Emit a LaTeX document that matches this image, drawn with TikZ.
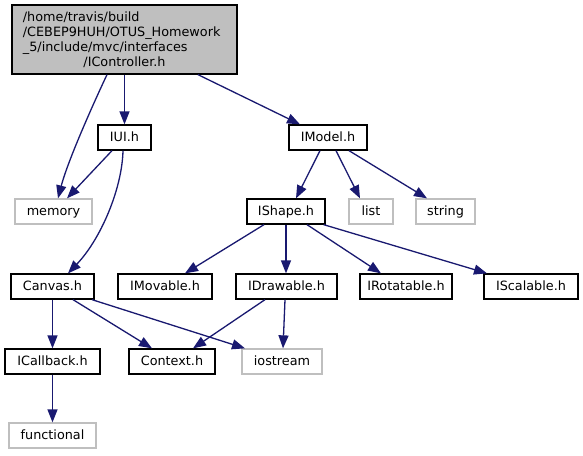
\documentclass[tikz,border=0pt]{standalone}
\usepackage{fontspec}
\setmainfont{DejaVu Sans}
\usetikzlibrary{arrows.meta}
\definecolor{edgeblue}{HTML}{191970}
\definecolor{sysgray}{HTML}{BFBFBF}
\begin{document}
\begin{tikzpicture}[x=1pt,y=-1pt,
  every node/.style={font=\fontsize{12.8}{15}\selectfont, inner sep=0pt},
  file/.style={draw=black, line width=1.3pt, fill=white, minimum height=25pt, text height=9.5pt, text depth=2.5pt},
  sysfile/.style={draw=sysgray, line width=1.3pt, fill=white, minimum height=25pt, text height=9.5pt, text depth=2.5pt},
  e/.style={draw=edgeblue, line width=1.3pt, -{Triangle[length=13pt,width=10pt]}, edgeblue}]
\useasboundingbox (0,0) rectangle (583,455);
\fill[white] (0,0) rectangle (583,455);
% nodes
\node[draw=black, line width=1.3pt, fill=sysgray, minimum width=225pt, minimum height=69pt] (top) at (124.5,39.5) {};
\node[anchor=base west] (t1) at (22.7,21) {/home/travis/build};
\node[anchor=base west] (t2) at (22.7,36) {/CEBEP9HUH/OTUS\_Homework};
\node[anchor=base west] (t3) at (22.7,51) {\_5/include/mvc/interfaces};
\node[anchor=base] (t4) at (124.5,66) {/IController.h};
\node[file, minimum width=53pt] (iui) at (124.5,137.5) {IUI.h};
\node[file, minimum width=78pt] (imodel) at (328,137.5) {IModel.h};
\node[sysfile, minimum width=77pt] (memory) at (53.5,211.5) {memory};
\node[file, minimum width=78pt] (ishape) at (286,211.5) {IShape.h};
\node[sysfile, minimum width=44pt] (list) at (371,211.5) {list};
\node[sysfile, minimum width=59pt] (string) at (445.5,211.5) {string};
\node[file, minimum width=83pt] (canvas) at (52.5,286.5) {Canvas.h};
\node[file, minimum width=94pt] (imovable) at (165,286.5) {IMovable.h};
\node[file, minimum width=101pt] (idrawable) at (286.5,286.5) {IDrawable.h};
\node[file, minimum width=92pt] (irotatable) at (406,286.5) {IRotatable.h};
\node[file, minimum width=94pt] (iscalable) at (531,286.5) {IScalable.h};
\node[file, minimum width=95pt] (icallback) at (52.5,361.5) {ICallback.h};
\node[file, minimum width=86pt] (context) at (172,361.5) {Context.h};
\node[sysfile, minimum width=80pt] (iostream) at (282,361.5) {iostream};
\node[sysfile, minimum width=87pt] (functional) at (52.5,435.5) {functional};
% edges
\draw[e] ([xshift=-17.5pt]top.south) .. controls (95,100) and (68,160) .. ([xshift=4.5pt]memory.north);
\draw[e] (top.south) -- (iui.north);
\draw[e] ([xshift=73.5pt]top.south) -- ([xshift=-28pt]imodel.north);
\draw[e] ([xshift=-12.5pt]iui.south) -- ([xshift=13.5pt]memory.north);
\draw[e] ([xshift=-1.5pt]iui.south) .. controls (122,190) and (100,240) .. ([xshift=15.5pt]canvas.north);
\draw[e] ([xshift=-8pt]imodel.south) -- ([xshift=10pt]ishape.north);
\draw[e] ([xshift=8pt]imodel.south) -- ([xshift=-11pt]list.north);
\draw[e] ([xshift=21pt]imodel.south) -- ([xshift=-18.5pt]string.north);
\draw[e] ([xshift=-22pt]ishape.south) -- ([xshift=20pt]imovable.north);
\draw[e] (ishape.south) -- ([xshift=-0.5pt]idrawable.north);
\draw[e] ([xshift=21pt]ishape.south) -- ([xshift=-25pt]irotatable.north);
\draw[e] ([xshift=-2pt]ishape.south east) -- ([xshift=-44pt]iscalable.north);
\draw[e] (canvas.south) -- (icallback.north);
\draw[e] ([xshift=20.5pt]canvas.south) -- ([xshift=-20pt]context.north);
\draw[e] ([xshift=39.5pt]canvas.south) -- ([xshift=-37pt]iostream.north);
\draw[e] ([xshift=-21.5pt]idrawable.south) -- ([xshift=21pt]context.north);
\draw[e] ([xshift=-1.5pt]idrawable.south) -- ([xshift=1pt]iostream.north);
\draw[e] (icallback.south) -- (functional.north);
\end{tikzpicture}
\end{document}
